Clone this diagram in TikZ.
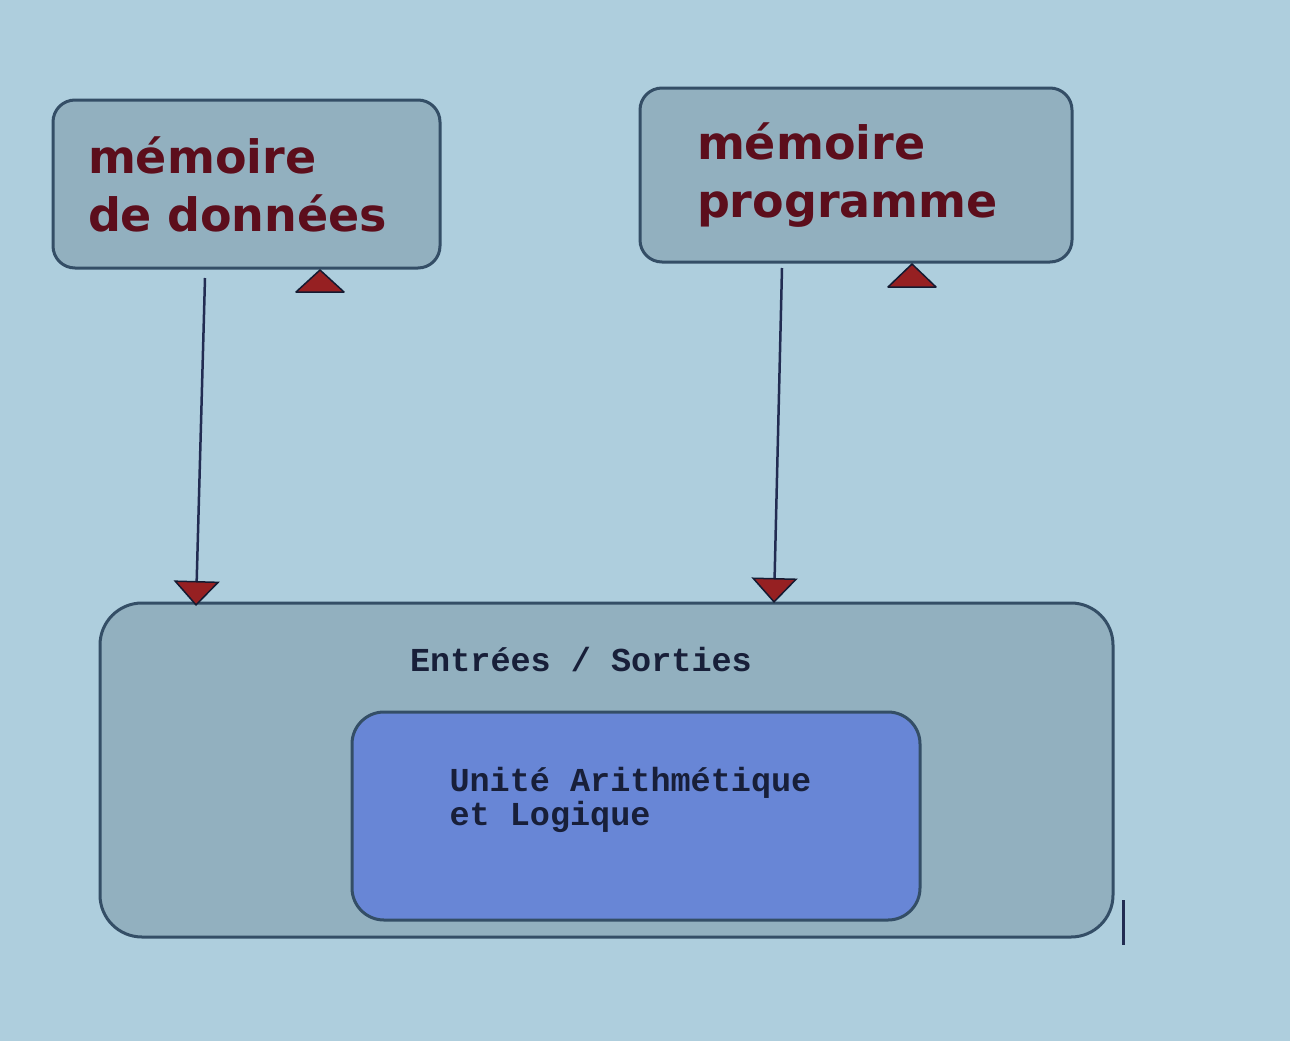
\documentclass[tikz,border=0pt]{standalone}
\usepackage{fontspec}
\setmainfont{DejaVu Sans}
\setmonofont{Liberation Mono}
\usetikzlibrary{arrows.meta}

\definecolor{fond}{RGB}{174,206,221}
\definecolor{boite}{RGB}{146,176,191}
\definecolor{bleu}{RGB}{104,134,214}
\definecolor{bord}{RGB}{52,78,102}
\definecolor{trait}{RGB}{34,44,82}
\definecolor{rouge}{RGB}{150,32,34}
\definecolor{bordeaux}{RGB}{92,14,28}

\begin{document}
\begin{tikzpicture}
        [x=1pt,y=-1pt,line width=3pt,
         memoire/.style={draw=bord,fill=boite,rounded corners=22pt,align=left,inner ysep=0pt,
           font=\fontsize{46}{58}\selectfont\bfseries,text=bordeaux},
         bloc/.style={draw=bord,fill=boite,rounded corners=42pt,inner sep=0pt},
         ual/.style={draw=bord,fill=bleu,rounded corners=32pt,inner sep=0pt},
         mono/.style={font=\fontsize{33.5}{34}\selectfont\ttfamily\bfseries,text=trait!70!black,align=left,inner sep=0pt},
         fleche/.style={draw=trait,line width=2.5pt,-{Triangle[width=46pt,length=25pt,fill=rouge,color=trait!60!black,line width=1.5pt]}},
         marque/.style={fill=rouge,draw=trait!60!black,line width=1.5pt,line join=round}]
        \fill[fond] (0,0) rectangle (1290,1041);
        \useasboundingbox (0,0) rectangle (1290,1041);

        \node[memoire,minimum width=387pt,minimum height=168pt,text width=317pt,inner xsep=35pt] (donnees) at (246.5,184) {mémoire\\de données};
        \node[memoire,minimum width=432pt,minimum height=174pt,text width=318pt,inner xsep=57pt] (programme) at (856,175) {mémoire\\programme};

        \node[bloc,minimum width=1013pt,minimum height=334pt] (es) at (606.5,770) {};
        \node[mono] (estxt) at (581,660) {Entrées / Sorties};
        \node[ual,minimum width=568pt,minimum height=208pt] (alu) at (636,816) {};
        \node[mono,anchor=north west] (alutxt) at (448,766) {Unité Arithmétique\\et Logique};

        \coordinate (d1) at (205,278);
        \coordinate (d2) at (196,606);
        \coordinate (p1) at (782,268);
        \coordinate (p2) at (774,603);
        \path (d1) edge [fleche] (d2);
        \path (p1) edge [fleche] (p2);

        \draw[marque] (296,292) -- (344,292) -- (320,270) -- cycle;
        \draw[marque] (888,287) -- (936,287) -- (912,264) -- cycle;

        \draw[trait,line width=3pt] (1123,900) -- (1123,945);
    \end{tikzpicture}
\end{document}
